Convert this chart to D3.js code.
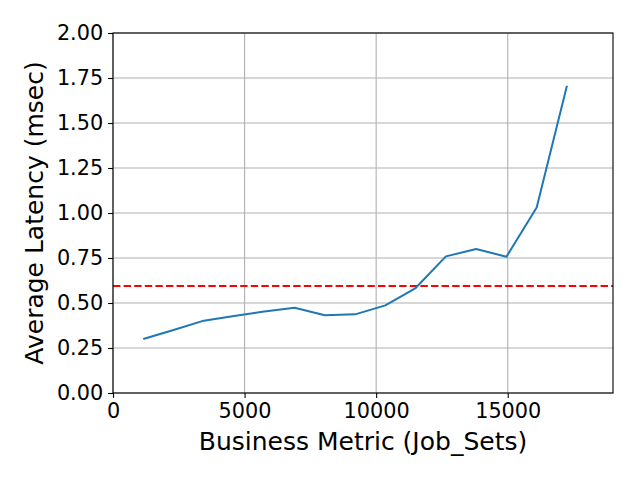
<!DOCTYPE html>
<html>
<head>
<meta charset="utf-8">
<script src="https://cdn.jsdelivr.net/npm/d3@7"></script>
<style>
  body { margin: 0; background: #fff; }
  svg { font-family: "DejaVu Sans", sans-serif; }
</style>
</head>
<body>
<svg width="640" height="480"></svg>
<script>
// data
var jobSets = [1150, 2300, 3450, 4600, 5750, 6900, 8050, 9200, 10350, 11500, 12650, 13800, 14950, 16100, 17250];
var latency = [0.300, 0.350, 0.402, 0.428, 0.453, 0.474, 0.432, 0.437, 0.487, 0.583, 0.759, 0.800, 0.757, 1.030, 1.707];
var threshold = 0.595;
var xTicks = [0, 5000, 10000, 15000];
var yTicks = [0, 0.25, 0.5, 0.75, 1.0, 1.25, 1.5, 1.75, 2.0];

var svg = d3.select("svg");
var margins = { top: 33, bottom: 87, left: 113, right: 27 };
var chartWidth = 640 - margins.left - margins.right;
var chartHeight = 480 - margins.top - margins.bottom;

var xScale = d3.scaleLinear().domain([0, 19000]).range([0, chartWidth]);
var yScale = d3.scaleLinear().domain([0, 2]).range([chartHeight, 0]);

var g = svg.append("g")
    .attr("transform", `translate(${margins.left},${margins.top})`);

// grid lines
g.append("g").selectAll("line").data(xTicks).enter().append("line")
    .attr("x1", d => xScale(d)).attr("x2", d => xScale(d))
    .attr("y1", 0).attr("y2", chartHeight)
    .style("stroke", "#b0b0b0").style("stroke-width", 1.1);
g.append("g").selectAll("line").data(yTicks).enter().append("line")
    .attr("x1", 0).attr("x2", chartWidth)
    .attr("y1", d => yScale(d)).attr("y2", d => yScale(d))
    .style("stroke", "#b0b0b0").style("stroke-width", 1.1);

// threshold line
g.append("line")
    .attr("x1", 0).attr("x2", chartWidth)
    .attr("y1", yScale(threshold)).attr("y2", yScale(threshold))
    .style("stroke", "#ff0000").style("stroke-width", 2)
    .style("stroke-dasharray", "7.4,3.2");

// latency line
var line = d3.line()
    .x((d, i) => xScale(jobSets[i]))
    .y(d => yScale(d));
g.append("path").datum(latency)
    .attr("d", line)
    .style("fill", "none")
    .style("stroke", "#1f77b4")
    .style("stroke-width", 2)
    .style("stroke-linejoin", "round")
    .style("stroke-linecap", "butt");

// frame
g.append("rect")
    .attr("width", chartWidth).attr("height", chartHeight)
    .style("fill", "none").style("stroke", "#000").style("stroke-width", 1.1);

// axes
var xAxis = d3.axisBottom(xScale).tickValues(xTicks).tickFormat(d3.format("d"))
    .tickSize(4.9).tickPadding(4.9);
var yAxis = d3.axisLeft(yScale).tickValues(yTicks).tickFormat(d3.format(".2f"))
    .tickSize(4.9).tickPadding(4.9);

var gx = g.append("g").attr("transform", `translate(0,${chartHeight})`).call(xAxis);
var gy = g.append("g").call(yAxis);
[gx, gy].forEach(function (a) {
    a.select(".domain").remove();
    a.selectAll(".tick line").style("stroke", "#000").style("stroke-width", 1.1);
    a.selectAll(".tick text")
        .style("font-family", "DejaVu Sans")
        .style("font-size", "20.8px")
        .style("fill", "#000");
});

// axis labels
svg.append("text")
    .attr("x", margins.left + chartWidth / 2).attr("y", 450)
    .attr("text-anchor", "middle")
    .style("font-size", "25px")
    .text("Business Metric (Job_Sets)");

svg.append("text")
    .attr("transform", `translate(43,${margins.top + chartHeight / 2}) rotate(-90)`)
    .attr("text-anchor", "middle")
    .style("font-size", "25px")
    .text("Average Latency (msec)");
</script>
</body>
</html>
